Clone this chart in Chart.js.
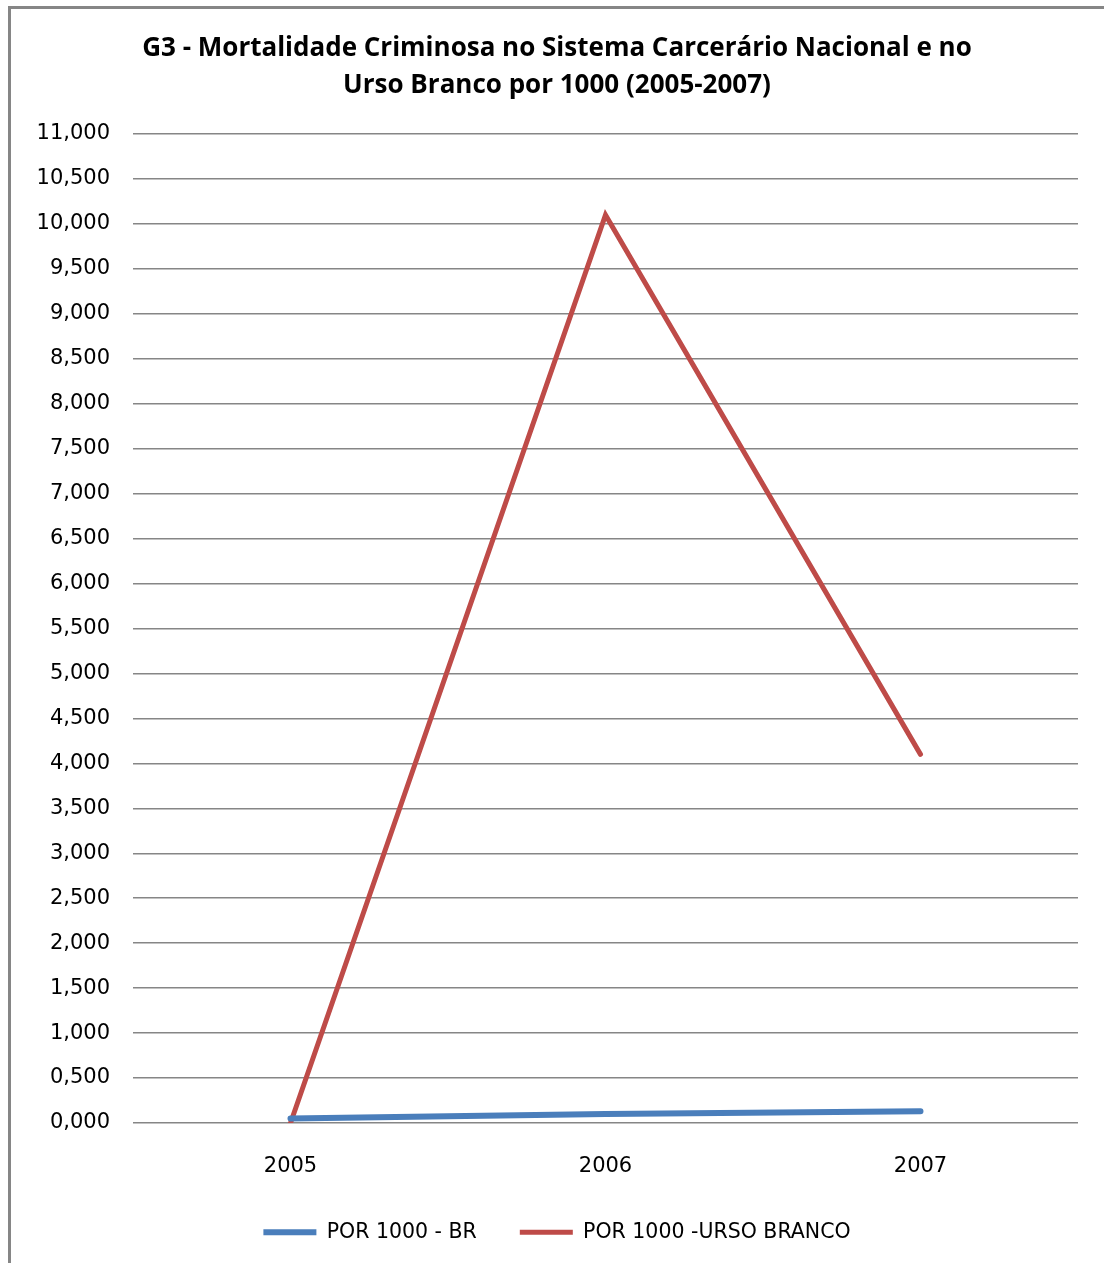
<!DOCTYPE html>
<html>
<head>
<meta charset="utf-8">
<script src="https://cdn.jsdelivr.net/npm/chart.js@4"></script>
<style>
html,body{margin:0;padding:0;background:#fff;}
#wrap{position:relative;width:1104px;height:1263px;}
</style>
</head>
<body>
<div id="wrap"><canvas id="c" width="1104" height="1263"></canvas></div>
<script>
const categories = ['2005', '2006', '2007'];
const porMilBR = [0.05, 0.10, 0.13];
const porMilUrsoBranco = [0.0, 10.1, 4.1];
const seriesLabels = ['POR 1000 - BR', 'POR 1000 -URSO BRANCO'];
const titleLines = ['G3 - Mortalidade Criminosa no Sistema Carcerário Nacional e no', 'Urso Branco por 1000 (2005-2007)'];
const yMin = 0, yMax = 11, yStep = 0.5;

const frame = {
  id: 'frame',
  afterDraw(chart) {
    const ctx = chart.ctx;
    ctx.save();
    ctx.strokeStyle = '#868686';
    ctx.lineWidth = 3;
    ctx.beginPath();
    ctx.moveTo(9.5, 1263);
    ctx.lineTo(9.5, 7.5);
    ctx.lineTo(1104, 7.5);
    ctx.stroke();
    ctx.restore();
  }
};

// keep wide horizontal spacing between legend items while fixing the legend's height
const legendHeight = {
  id: 'legendHeight',
  beforeLayout(chart) {
    const lg = chart.legend;
    if (lg && !lg._fixedH) {
      const fit = lg.fit;
      lg.fit = function () { fit.call(this); this.height = 84; };
      lg._fixedH = true;
    }
  }
};

new Chart(document.getElementById('c'), {
  type: 'line',
  data: {
    labels: categories,
    datasets: [
      { label: seriesLabels[0], data: porMilBR, borderColor: '#4A7EBB', backgroundColor: '#4A7EBB', borderWidth: 6, pointRadius: 0, tension: 0, borderCapStyle: 'round' },
      { label: seriesLabels[1], data: porMilUrsoBranco, borderColor: '#BE4B48', backgroundColor: '#BE4B48', borderWidth: 5, pointRadius: 0, tension: 0, borderCapStyle: 'round' }
    ]
  },
  options: {
    responsive: false,
    animation: false,
    devicePixelRatio: 1,
    layout: { padding: { left: 36, right: 26, top: 0, bottom: 0 } },
    plugins: {
      title: {
        display: true,
        text: titleLines,
        color: '#000',
        font: { family: 'Open Sans', size: 26, weight: 'bold', lineHeight: 1.423 },
        padding: { top: 30, bottom: 30 }
      },
      legend: {
        position: 'bottom',
        labels: {
          color: '#000',
          font: { family: 'DejaVu Sans', size: 20.5 },
          usePointStyle: true,
          pointStyleWidth: 53,
          pointStyle: 'line',
          boxHeight: 20,
          padding: 43
        }
      },
      tooltip: { enabled: false }
    },
    scales: {
      x: {
        offset: true,
        afterFit(scale) { scale.height = 56; },
        grid: { display: false, drawTicks: false },
        border: { display: false },
        ticks: { color: '#000', font: { family: 'DejaVu Sans', size: 21 }, padding: 31 }
      },
      y: {
        min: yMin, max: yMax,
        afterFit(scale) { scale.width = 97; },
        grid: { color: '#868686', lineWidth: 1.5, drawTicks: false },
        border: { display: false },
        ticks: {
          stepSize: yStep,
          color: '#000',
          font: { family: 'DejaVu Sans', size: 21 },
          padding: 23,
          callback: v => v.toFixed(3).replace('.', ',')
        }
      }
    }
  },
  plugins: [frame, legendHeight]
});
</script>
</body>
</html>
